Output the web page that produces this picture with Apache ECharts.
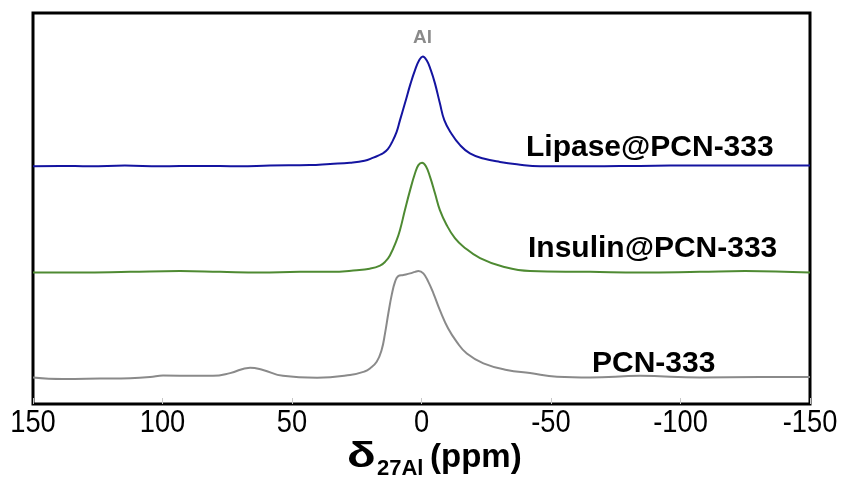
<!DOCTYPE html>
<html>
<head>
<meta charset="utf-8">
<script src="https://cdn.jsdelivr.net/npm/echarts@6/dist/echarts.min.js"></script>
<style>
html,body{margin:0;padding:0;background:#fff;}
#chart{width:850px;height:481px;}
</style>
</head>
<body>
<div id="chart"></div>
<script>
// x ticks (ppm), inverted NMR axis
const xTicks = [150, 100, 50, 0, -50, -100, -150];
const xTickLabels = ['150', '100', '50', '0', '-50', '-100', '-150'];

// Lipase@PCN-333 (top trace, stacked offset as drawn)
const lipasePpm = [150, 139.6, 128.0, 114.5, 101.0, 85.5, 70.1, 58.5, 43.1, 35.3, 27.6, 22.0, 18.6, 16.5, 14.7, 13.0, 11.5, 9.6, 8.3, 6.4, 4.2, 2.5, 0.9, -0.5, -2.0, -3.6, -5.2, -7.1, -8.8, -11.4, -14.9, -18.7, -23.9, -30.3, -36.8, -45.8, -65.1, -84.4, -107.5, -130.7, -150];
const lipaseInt = [60.8, 60.9, 60.8, 61.0, 60.8, 60.9, 60.8, 61.0, 61.1, 61.4, 61.7, 62.2, 63.0, 63.6, 64.2, 65.2, 66.8, 69.6, 72.6, 76.9, 82.0, 85.4, 87.9, 88.9, 87.9, 85.4, 82.0, 76.9, 72.6, 69.3, 66.2, 64.1, 62.8, 61.9, 61.3, 60.8, 60.8, 60.9, 61.0, 61.0, 61.0];

// Insulin@PCN-333 (middle trace)
const insulinPpm = [150, 131.9, 112.5, 93.2, 77.8, 62.4, 46.9, 35.3, 25.0, 20.0, 16.0, 14.0, 12.2, 9.6, 8.3, 6.4, 4.4, 2.5, 1.2, -0.2, -1.7, -3.3, -5.2, -7.1, -9.7, -12.9, -16.1, -22.6, -31.6, -41.9, -65.1, -84.4, -107.5, -124.9, -150];
const insulinInt = [33.6, 33.6, 33.8, 34.0, 33.8, 33.6, 33.8, 33.8, 34.2, 34.6, 35.4, 36.4, 38.0, 41.9, 44.5, 49.6, 54.7, 59.0, 61.1, 61.7, 60.8, 58.1, 53.9, 49.6, 45.8, 42.4, 40.3, 37.3, 35.1, 34.0, 33.8, 33.6, 33.8, 34.0, 33.6];

// PCN-333 (bottom trace)
const pcnPpm = [150, 138.4, 124.1, 112.5, 104.8, 99.8, 86.7, 80.5, 73.9, 66.2, 61.2, 53.5, 40.3, 27.6, 22.0, 19.9, 17.3, 15.4, 14.1, 12.8, 11.5, 10.2, 9.0, 7.0, 4.4, 2.5, 1.2, -0.7, -2.6, -4.6, -7.1, -10.3, -13.6, -17.5, -23.9, -32.9, -41.9, -52.3, -65.1, -84.4, -107.5, -130.7, -150];
const pcnInt = [6.8, 6.4, 6.5, 6.6, 6.9, 7.3, 7.2, 7.2, 7.9, 9.3, 8.7, 7.2, 6.7, 7.4, 8.3, 9.1, 10.8, 13.8, 18.0, 23.2, 27.9, 31.3, 32.7, 33.0, 33.4, 33.8, 34.0, 33.4, 31.3, 28.3, 24.0, 19.3, 15.9, 12.9, 10.4, 8.7, 7.9, 7.0, 6.8, 7.2, 6.8, 6.9, 6.9];

const seriesNames = ['Lipase@PCN-333', 'Insulin@PCN-333', 'PCN-333'];

function zip(a, b) { return a.map((v, i) => [v, b[i]]); }

const chart = echarts.init(document.getElementById('chart'), null, {renderer: 'canvas'});
const sans = '"Liberation Sans", Arial, sans-serif';

chart.setOption({
  animation: false,
  backgroundColor: '#fff',
  grid: {left: 33, right: 40, top: 13, bottom: 77, show: true, borderColor: '#000', borderWidth: 3, backgroundColor: 'transparent'},
  xAxis: {
    type: 'value', inverse: true, min: xTicks[xTicks.length - 1], max: xTicks[0], interval: 50,
    axisLine: {show: false},
    axisTick: {show: true, inside: true, length: 6, lineStyle: {color: '#c8c8c8', width: 1}},
    splitLine: {show: false},
    axisLabel: {show: false}
  },
  yAxis: {type: 'value', min: 0, max: 100, show: false},
  series: [
    {name: seriesNames[0], type: 'line', data: zip(lipasePpm, lipaseInt), smooth: 0.45, symbol: 'none', lineStyle: {color: '#1414a0', width: 2}},
    {name: seriesNames[1], type: 'line', data: zip(insulinPpm, insulinInt), smooth: 0.45, symbol: 'none', lineStyle: {color: '#4e8a32', width: 2}},
    {name: seriesNames[2], type: 'line', data: zip(pcnPpm, pcnInt), smooth: 0.45, symbol: 'none', lineStyle: {color: '#8a8a8a', width: 2}}
  ]
});

// tick labels placed through the axis scale (slightly condensed like the original)
const tickGraphics = xTicks.map((v, i) => ({
  type: 'text',
  x: chart.convertToPixel({xAxisIndex: 0}, v),
  y: 408,
  scaleX: 0.88,
  style: {text: xTickLabels[i], font: '31px ' + sans, fill: '#000', align: 'center', verticalAlign: 'top'}
}));

chart.setOption({
  graphic: tickGraphics.concat([
    {type: 'text', left: 413, top: 28, style: {text: 'Al', font: 'bold 19px ' + sans, fill: '#8a8a8a'}},
    {type: 'text', left: 526, top: 133, style: {text: seriesNames[0], font: 'bold 30px ' + sans, fill: '#000'}},
    {type: 'text', left: 528, top: 234, style: {text: seriesNames[1], font: 'bold 30px ' + sans, fill: '#000'}},
    {type: 'text', left: 592, top: 349, style: {text: seriesNames[2], font: 'bold 30px ' + sans, fill: '#000'}},
    {type: 'text', x: 347, y: 440, scaleX: 1.35, style: {text: 'δ', font: 'bold 35px ' + sans, fill: '#000', verticalAlign: 'top'}},
    {type: 'text', left: 377, top: 458, style: {text: '27Al', font: 'bold 22px ' + sans, fill: '#000'}},
    {type: 'text', left: 430, top: 441, style: {text: '(ppm)', font: 'bold 33px ' + sans, fill: '#000'}}
  ])
});
</script>
</body>
</html>
